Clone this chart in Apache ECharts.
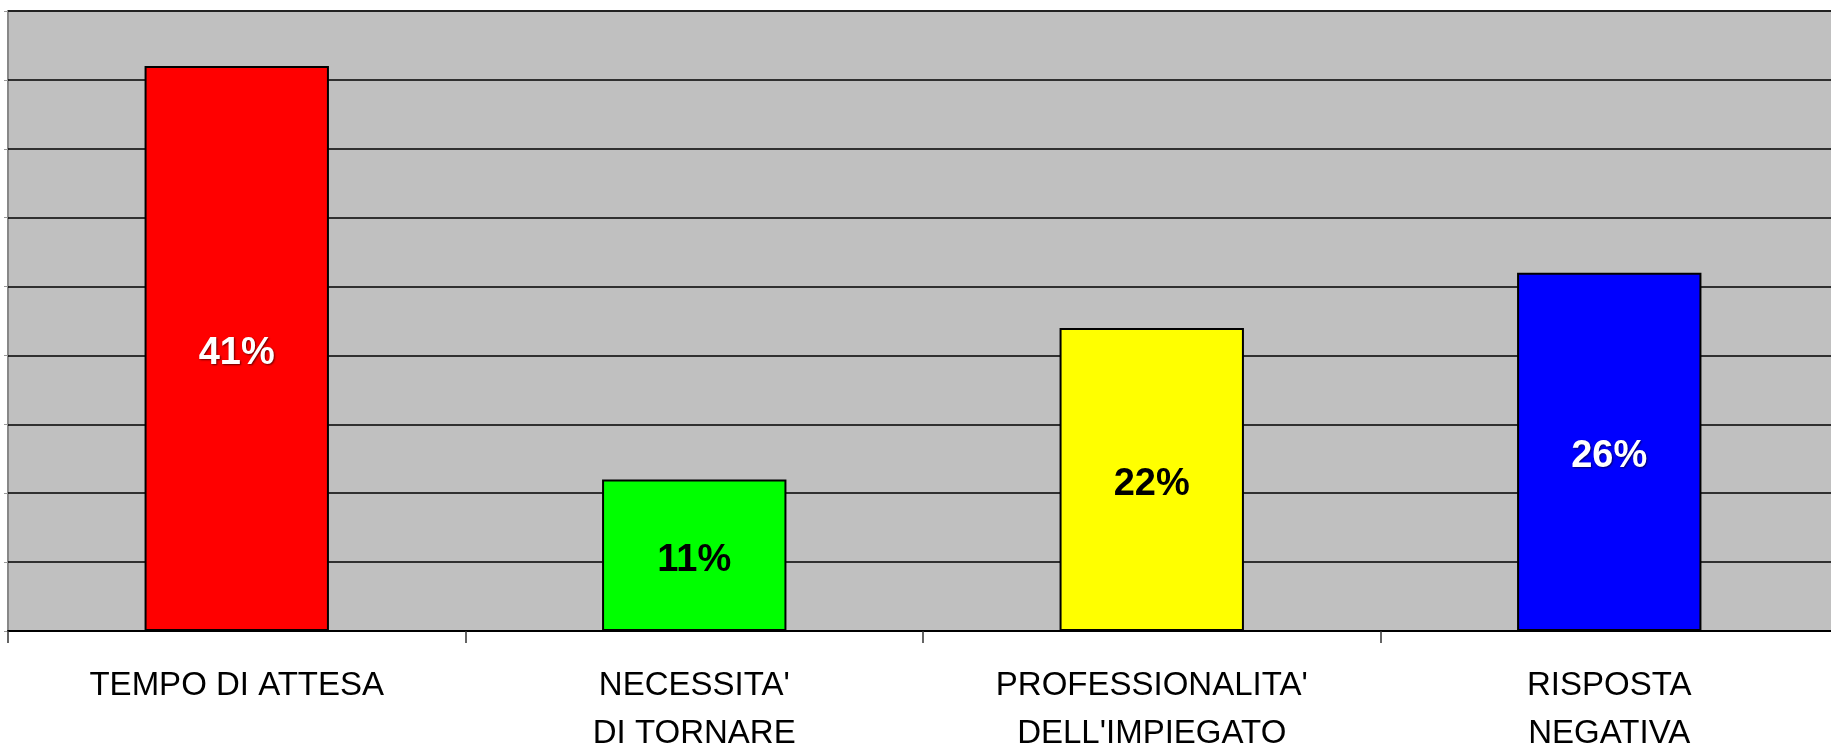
<!DOCTYPE html>
<html><head><meta charset="utf-8">
<script src="https://cdn.jsdelivr.net/npm/echarts@6/dist/echarts.min.js"></script>
<style>html,body{margin:0;padding:0;background:#fff;overflow:hidden}#c{width:1831px;height:744px}</style>
</head><body><div id="c"></div>
<script>
const categories = ["TEMPO DI ATTESA", "NECESSITA'\nDI TORNARE", "PROFESSIONALITA'\nDELL'IMPIEGATO", "RISPOSTA\nNEGATIVA"];
const values = [41, 11, 22, 26];
const barColors = ["#FF0000", "#00FF00", "#FFFF00", "#0000FF"];
const labelColors = ["#FFFFFF", "#000000", "#000000", "#FFFFFF"];

const chart = echarts.init(document.getElementById('c'));
chart.setOption({
  animation: false,
  grid: { left: 8, right: -7, top: 11, bottom: 113, outerBoundsMode: 'none', containLabel: false, show: true, backgroundColor: '#C0C0C0', borderColor: '#888888', borderWidth: 2 },
  xAxis: {
    type: 'category', data: categories,
    axisLine: { lineStyle: { color: '#000', width: 2 } },
    axisTick: { show: true, length: 12, lineStyle: { color: '#333', width: 1.5 } },
    axisLabel: { color: '#000', fontFamily: 'Liberation Sans, Arial, sans-serif', fontSize: 33, lineHeight: 48, margin: 31 }
  },
  yAxis: {
    type: 'value', min: 0, max: 45, interval: 5,
    axisLine: { show: false },
    axisTick: { show: true, length: 4, lineStyle: { color: '#999' } },
    axisLabel: { show: false },
    splitLine: { lineStyle: { color: '#000', width: 1.5 } }
  },
  series: [{
    type: 'bar', barWidth: '40.3%',
    data: values.map((v, i) => ({
      value: v,
      itemStyle: { color: barColors[i], borderColor: '#000', borderWidth: 2 },
      label: { color: labelColors[i], textShadowColor: labelColors[i] === '#FFFFFF' ? 'rgba(0,0,0,0.6)' : 'transparent', textShadowBlur: 2, textShadowOffsetX: 1, textShadowOffsetY: 1 }
    })),
    label: { show: true, position: 'inside', offset: [0, 5], formatter: '{c}%', fontFamily: 'Liberation Sans, Arial, sans-serif', fontWeight: 'bold', fontSize: 38 }
  }]
});
</script></body></html>
